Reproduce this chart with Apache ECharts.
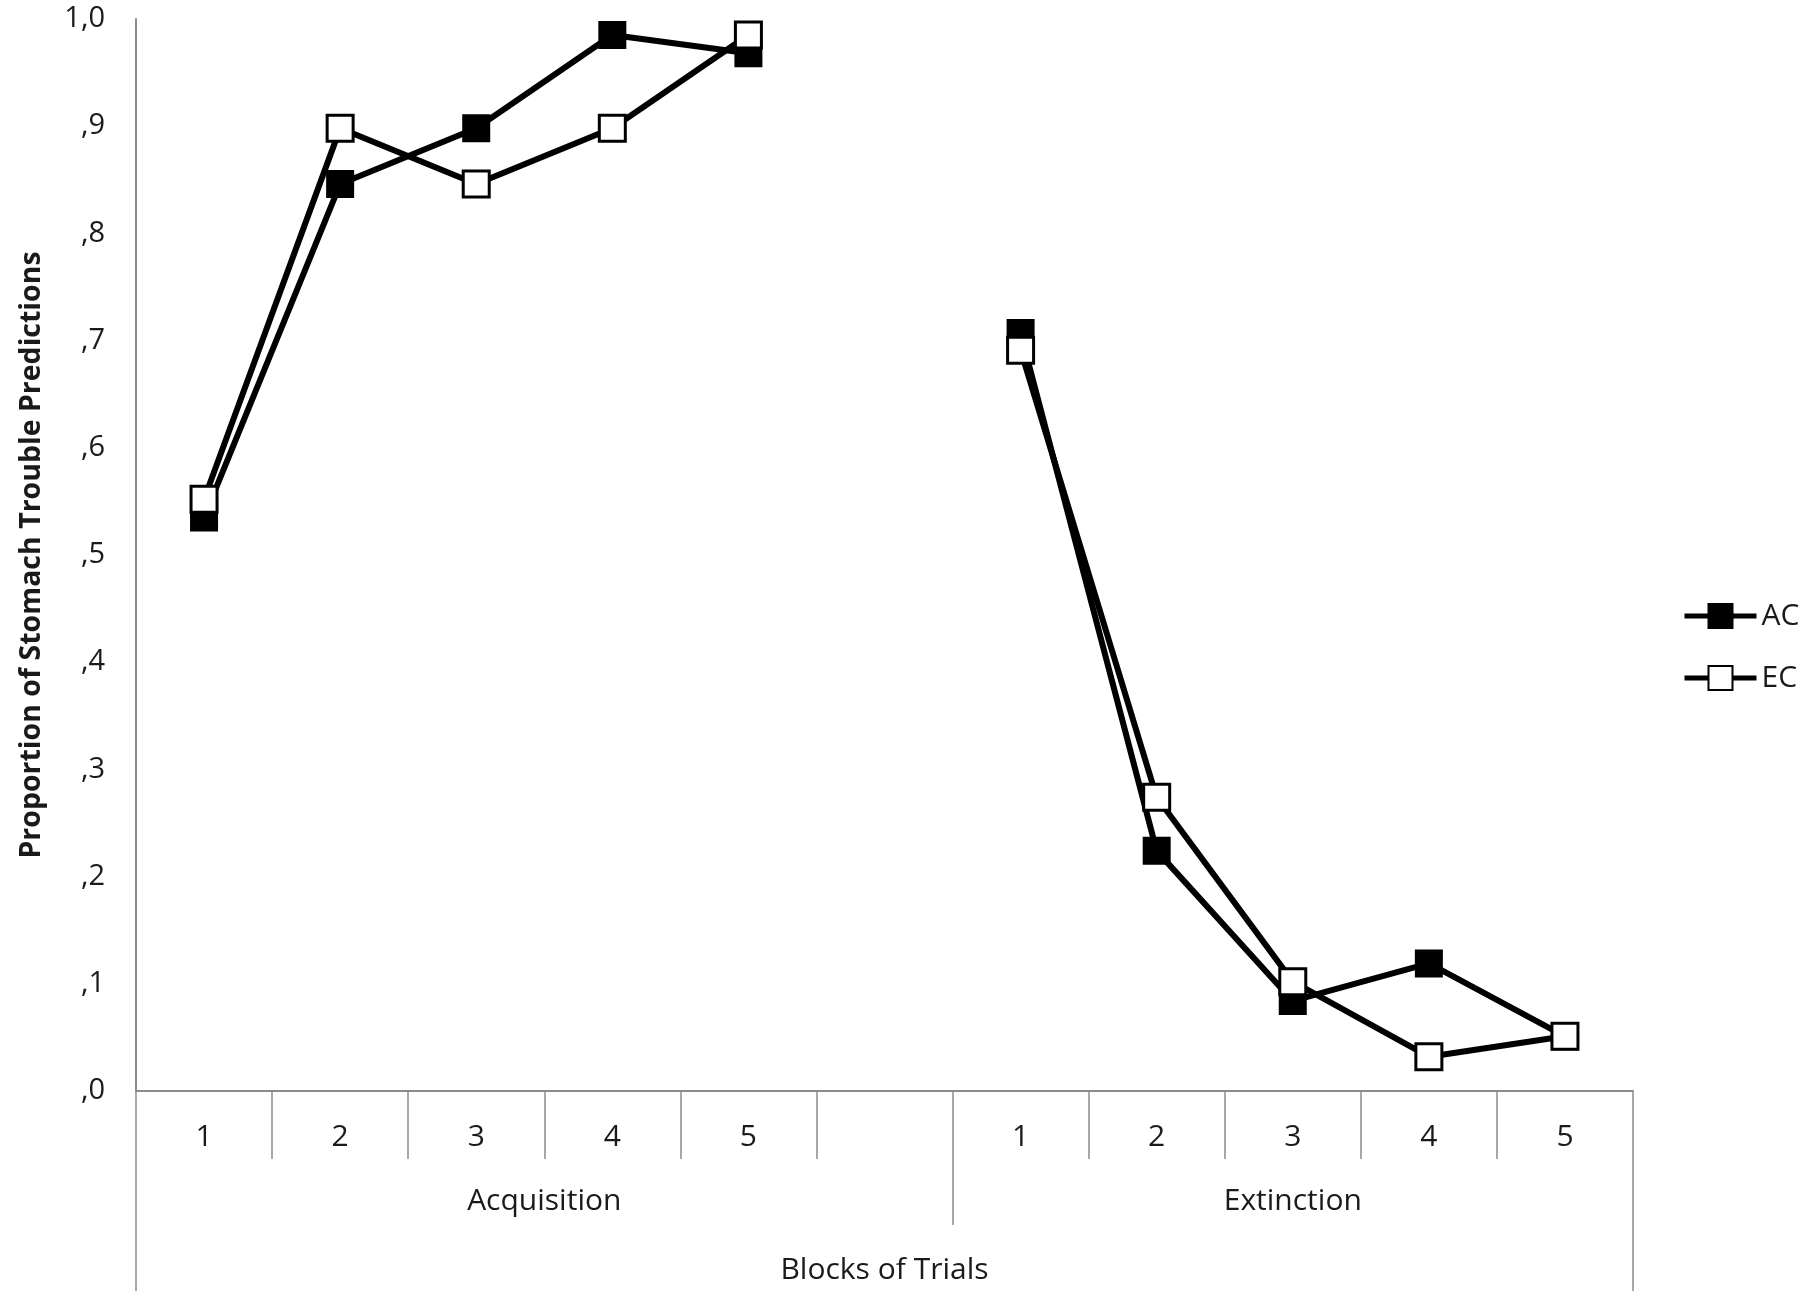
<!DOCTYPE html>
<html>
<head>
<meta charset="utf-8">
<title>Stomach Trouble Predictions</title>
<script src="https://cdn.jsdelivr.net/npm/echarts@6/dist/echarts.min.js"></script>
<style>
	html, body {margin: 0; padding: 0; background: #fff;}
	#main {width: 1810px; height: 1307px;}
</style>
</head>
<body>
<div id="main"></div>
<script>
// blocks of trials, the empty slot separates the two phases
var blocks = ['1', '2', '3', '4', '5', '', '1', '2', '3', '4', '5'];
var groupNames = ['Acquisition', 'Extinction'];
var groupSizes = [6, 5];
var outerName = 'Blocks of Trials';

// proportions
var acAcquisition = [0.535, 0.846, 0.898, 0.985, 0.968];
var acExtinction = [0.707, 0.224, 0.084, 0.119, 0.051];
var ecAcquisition = [0.552, 0.898, 0.846, 0.898, 0.985];
var ecExtinction = [0.691, 0.274, 0.102, 0.032, 0.051];

var fontName = "'Open Sans', 'Noto Sans', sans-serif";
var axisGray = '#8c8c8c';
var textColor = '#1a1a1a';

//把两个阶段拼成一条，中间空一格
function joinPhases(a, b) {
	return a.concat(['-']).concat(b);
}

//分组边界与中心
var groupBounds = [0];
var groupCenters = [];
for (var i = 0; i < groupSizes.length; i++) {
	var start = groupBounds[groupBounds.length - 1];
	groupCenters.push(start + groupSizes[i] / 2);
	groupBounds.push(start + groupSizes[i]);
}
var total = groupBounds[groupBounds.length - 1];

var myChart = echarts.init(document.getElementById('main'), null, {renderer: 'canvas'});
var option = {
	backgroundColor: '#fff',
	animation: false,
	textStyle: {fontFamily: fontName, color: textColor},
	grid: {
		left: 136,
		right: 177,
		top: 19,
		bottom: 216,
		containLabel: false
	},
	legend: {
		orient: 'vertical',
		left: 1677,
		top: 596,
		itemWidth: 72,
		itemHeight: 30,
		itemGap: 32,
		lineStyle: {width: 5, color: '#000'},
		textStyle: {fontFamily: fontName, fontSize: 30, color: textColor},
		data: ['AC', 'EC']
	},
	xAxis: [{
		type: 'category',
		data: blocks,
		boundaryGap: true,
		axisLine: {show: true, lineStyle: {color: axisGray, width: 2}},
		axisTick: {show: true, interval: 0, length: 68, lineStyle: {color: axisGray, width: 1.5}},
		axisLabel: {interval: 0, margin: 31, fontSize: 30, color: textColor, fontFamily: fontName},
		splitLine: {show: false}
	}, {
		type: 'value',
		position: 'bottom',
		offset: 68,
		min: 0,
		max: total,
		axisLine: {show: false},
		axisTick: {show: true, customValues: groupBounds, length: 66, lineStyle: {color: axisGray, width: 1.5}},
		axisLabel: {
			show: true,
			customValues: groupCenters,
			margin: 27,
			fontSize: 30,
			color: textColor,
			fontFamily: fontName,
			formatter: function (v) {
				var idx = groupCenters.indexOf(v);
				return idx >= 0 ? groupNames[idx] : '';
			}
		},
		splitLine: {show: false}
	}, {
		type: 'value',
		position: 'bottom',
		offset: 134,
		min: 0,
		max: total,
		axisLine: {show: false},
		axisTick: {show: true, customValues: [0, total], length: 66, lineStyle: {color: axisGray, width: 1.5}},
		axisLabel: {
			show: true,
			customValues: [total / 2],
			margin: 30,
			fontSize: 30,
			color: textColor,
			fontFamily: fontName,
			formatter: function () {
				return outerName;
			}
		},
		splitLine: {show: false}
	}],
	yAxis: {
		type: 'value',
		min: 0,
		max: 1,
		interval: 0.1,
		name: 'Proportion of Stomach Trouble Predictions',
		nameLocation: 'middle',
		nameGap: 90,
		nameTextStyle: {fontFamily: fontName, fontSize: 28.5, fontWeight: 'bold', color: textColor},
		axisLine: {show: true, lineStyle: {color: axisGray, width: 2}},
		axisTick: {show: false},
		axisLabel: {
			margin: 31,
			fontSize: 29,
			color: textColor,
			fontFamily: fontName,
			formatter: function (v) {
				return v.toFixed(1).replace('.', ',').replace(/^0/, '');
			}
		},
		splitLine: {show: false}
	},
	series: [{
		name: 'AC',
		type: 'line',
		data: joinPhases(acAcquisition, acExtinction),
		connectNulls: false,
		symbol: 'rect',
		symbolSize: 26,
		lineStyle: {color: '#000', width: 6},
		itemStyle: {color: '#000', borderColor: '#000', borderWidth: 2}
	}, {
		name: 'EC',
		type: 'line',
		data: joinPhases(ecAcquisition, ecExtinction),
		connectNulls: false,
		symbol: 'rect',
		symbolSize: 26,
		lineStyle: {color: '#000', width: 6},
		itemStyle: {color: '#fff', borderColor: '#000', borderWidth: 3}
	}]
};
myChart.setOption(option);
</script>
</body>
</html>
